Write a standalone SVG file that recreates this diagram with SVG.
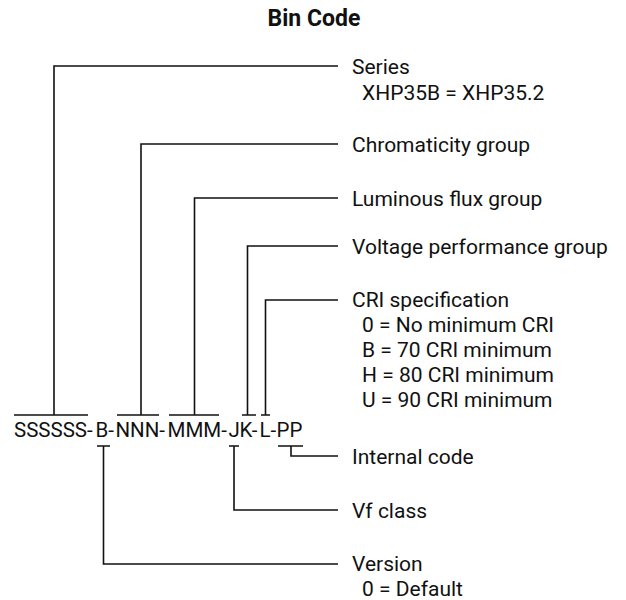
<svg xmlns="http://www.w3.org/2000/svg" width="626" height="600" viewBox="0 0 626 600">
<style>
.t{font-family:Roboto,"Liberation Sans",sans-serif;font-size:21px;fill:#111}
.k{font-family:Roboto,"Liberation Sans",sans-serif;font-size:20.5px;fill:#111}
.title{font-family:Roboto,"Liberation Sans",sans-serif;font-size:23px;font-weight:bold;fill:#111}
.c{stroke:#111;stroke-width:1.6;fill:none}
</style>
<rect width="626" height="600" fill="#fff"/>
<text class="title" x="314" y="26" text-anchor="middle">Bin Code</text>
<g id="code">
<text class="k" y="437"><tspan x="14">SSSSSS-</tspan><tspan x="95.5">B-</tspan><tspan x="115.5">NNN-</tspan><tspan x="167.5">MMM-</tspan><tspan x="228.5">J</tspan><tspan x="239.5">K-</tspan><tspan x="259.5">L-</tspan><tspan x="276.5">PP</tspan></text>
</g>
<g id="connectors">
<path class="c" d="M14 415H88M54 415V66H338"/>
<path class="c" d="M117 415H159M141 415V144H338"/>
<path class="c" d="M169 415H219M194.5 415V198H338"/>
<path class="c" d="M242 415H256M247.5 415V246H338"/>
<path class="c" d="M261 415H270M265.5 415V300H338"/>
<path class="c" d="M278 446H303M291 446V456H338"/>
<path class="c" d="M229 446H239M234 446V510H338"/>
<path class="c" d="M97 446H110M103.5 446V564H338"/>
</g>
<g id="series"><text class="t" x="352" y="74">Series</text><text class="t" x="362" y="100">XHP35B = XHP35.2</text></g>
<g id="chromaticity"><text class="t" x="352" y="152">Chromaticity group</text></g>
<g id="luminous"><text class="t" x="352" y="206">Luminous flux group</text></g>
<g id="voltage"><text class="t" x="352" y="254">Voltage performance group</text></g>
<g id="cri"><text class="t" x="352" y="307">CRI specification</text><text class="t" x="362" y="332">0 = No minimum CRI</text><text class="t" x="362" y="357">B = 70 CRI minimum</text><text class="t" x="362" y="382">H = 80 CRI minimum</text><text class="t" x="362" y="407">U = 90 CRI minimum</text></g>
<g id="internal"><text class="t" x="352" y="464">Internal code</text></g>
<g id="vf"><text class="t" x="352" y="518">Vf class</text></g>
<g id="version"><text class="t" x="352" y="571">Version</text><text class="t" x="362" y="596">0 = Default</text></g>
</svg>
